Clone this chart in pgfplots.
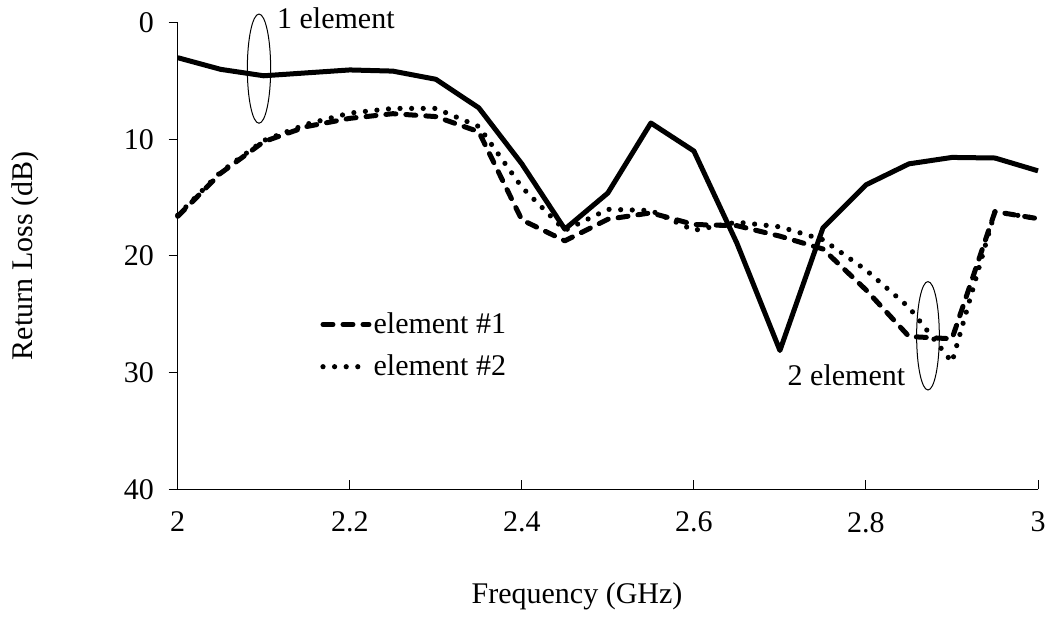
\documentclass[border=0pt]{standalone}
\usepackage{fontspec}
\setmainfont{Liberation Serif}
\usepackage{pgfplots}
\pgfplotsset{compat=1.18}
\usepackage{pgfplotstable}

\pgfplotstableread{
f     solid  dashA  dotB
2.00  3.0    16.6   16.5
2.05  4.0    12.9   12.8
2.10  4.55   10.2   10.1
2.15  4.3    8.9    8.7
2.20  4.05   8.2    7.75
2.25  4.15   7.8    7.35
2.30  4.85   8.05   7.35
2.35  7.3    9.35   8.9
2.40  12.1   16.9   14.1
2.45  17.7   18.7   17.8
2.50  14.6   16.85  16.0
2.55  8.6    16.3   16.1
2.60  11.0   17.3   17.8
2.65  18.9   17.4   17.1
2.70  28.1   18.3   17.5
2.75  17.6   19.4   18.6
2.80  13.9   22.9   21.2
2.85  12.1   26.9   24.4
2.90  11.55  27.1   29.1
2.95  11.6   16.2   16.2
3.00  12.7   16.8   16.8
}\rldata

\begin{document}
\begin{tikzpicture}
\begin{axis}[
  name=ax,
  scale only axis,
  width=430.15pt, height=233.3pt,
  font=\fontsize{15}{18}\selectfont,
  xmin=2, xmax=3, ymin=0, ymax=40,
  y dir=reverse,
  axis x line=bottom, axis y line=left,
  axis line style={line width=0.5pt, -},
  xtick={2,2.2,2.4,2.6,2.8,3},
  xticklabels={2,2.2,2.4,2.6,2.8,3},
  ytick={0,10,20,30,40},
  tick align=outside,
  major tick length=4.5pt,
  tick style={line width=0.5pt, black},
  xtick style={yshift=4.5pt},
  tick label style={/pgf/number format/assume math mode=true, font=\fontsize{15}{18}\selectfont},
  x tick label style={yshift=-3.35pt},
  y tick label style={xshift=-3.85pt},
  xlabel={Frequency (GHz)},
  ylabel={Return Loss (dB)},
  every axis x label/.style={at={(rel axis cs:0.5,0)}, anchor=center, xshift=-15.4pt, yshift=-53.35pt},
  every axis y label/.style={at={(rel axis cs:0,0.5)}, xshift=-76.35pt, rotate=90, anchor=center},
  clip=false,
  legend style={at={(rel axis cs:0.1654,0.308)}, anchor=west, draw=none, fill=none,
    inner sep=0pt, row sep=0pt, column sep=0pt,
    nodes={inner xsep=1pt, inner ysep=4.6pt},
    font=\fontsize{15}{18}\selectfont},
  legend cell align=left,
  legend image code/.code={\draw[#1] (0pt,0pt) -- (23pt,0pt);},
]
\addplot[forget plot, black, line width=2.5pt, line join=round] table[x=f, y=solid] {\rldata};
\addplot[black, line width=2.5pt, line cap=round, line join=round, dash pattern=on 5pt off 5pt] table[x=f, y=dashA] {\rldata};
\addlegendentry{element \#1}
\addplot[black, line width=2.6pt, line cap=round, dash pattern=on 0pt off 5.8pt] table[x=f, y=dotB] {\rldata};
\addlegendentry{element \#2}

\draw[line width=0.5pt] (axis cs:2.0945,3.94) ellipse [x radius=5.83pt, y radius=27.3pt];
\draw[line width=0.5pt] (axis cs:2.8721,26.84) ellipse [x radius=5.67pt, y radius=27.1pt];
\node[anchor=base west, inner sep=0pt] at (axis cs:2.1151,0.48) {1 element};
\node[anchor=base west, inner sep=0pt] at (axis cs:2.7086,31.06) {2 element};
\end{axis}
\pgfresetboundingbox
\path[use as bounding box] ([xshift=-88.85pt,yshift=-63.85pt]ax.south west) rectangle ([xshift=7.5pt,yshift=11.35pt]ax.north east);
\end{tikzpicture}
\end{document}
